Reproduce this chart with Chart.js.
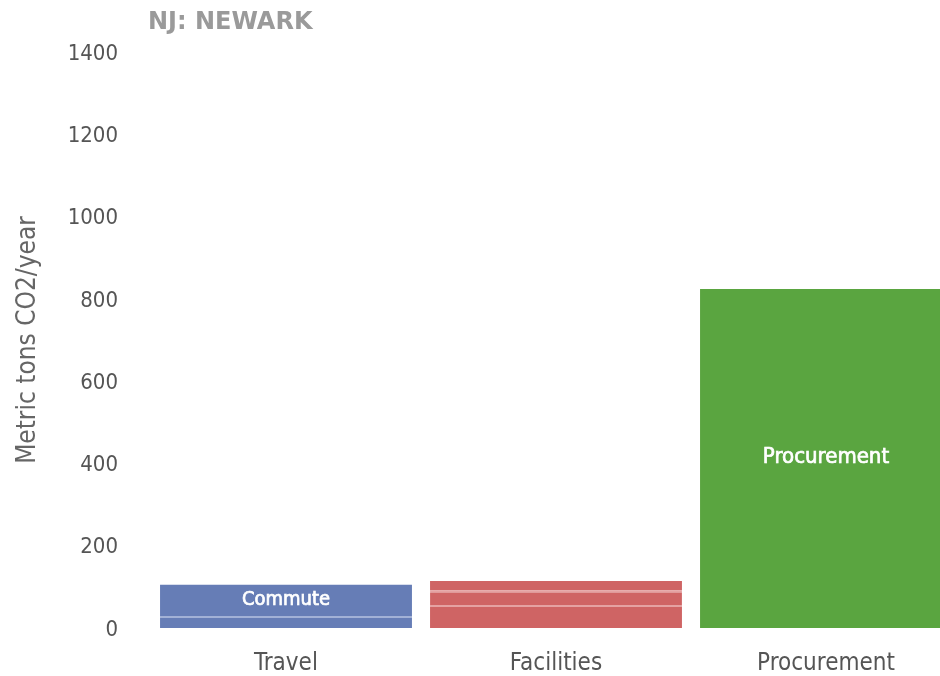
<!DOCTYPE html>
<html>
<head>
<meta charset="utf-8">
<script src="https://cdn.jsdelivr.net/npm/chart.js@4.4.1/dist/chart.umd.min.js"></script>
<style>
  html, body { margin: 0; padding: 0; background: #fff; overflow: hidden; }
</style>
</head>
<body>
<canvas id="chart" width="961" height="676"></canvas>
<script>
const categories = ["Travel", "Facilities", "Procurement"]
const travelOther = [29, null, null]
const commute = [76, null, null]
const facilitiesA = [null, 56, null]
const facilitiesB = [null, 35, null]
const facilitiesC = [null, 23, null]
const procurement = [null, null, 824]
const yTicks = [0, 200, 400, 600, 800, 1000, 1200, 1400]

const FONT = "'DejaVu Sans Condensed', 'DejaVu Sans', sans-serif"
const BLUE = "#667db6"
const BLUE_LINE = "#a2b1d6"
const RED = "#cf6464"
const RED_LINE = "#e5a2a2"
const GREEN = "#5aa540"

// lower segments get a thin light line on top, the top segment none
const seg = (label, data, color, line, labelSize) => ({
    label: label,
    data: data,
    backgroundColor: color,
    borderColor: line || color,
    borderWidth: { top: line ? 2 : 0, left: 0, right: 0, bottom: 0 },
    borderSkipped: false,
    labelSize: labelSize
})

const barLabels = {
    id: "barLabels",
    afterDatasetsDraw(chart) {
        const ctx = chart.ctx
        ctx.save()
        ctx.fillStyle = "#ffffff"
        ctx.strokeStyle = "#ffffff"
        ctx.lineWidth = 0.7
        ctx.textAlign = "center"
        ctx.textBaseline = "middle"
        chart.data.datasets.forEach((ds, i) => {
            if (!ds.labelSize) return
            ctx.font = ds.labelSize + "px " + FONT
            chart.getDatasetMeta(i).data.forEach((bar, j) => {
                if (ds.data[j] == null) return
                const y = (bar.y + bar.base) / 2 - 1
                ctx.fillText(ds.label, bar.x, y)
                ctx.strokeText(ds.label, bar.x, y)
            })
        })
        ctx.fillStyle = "#9a9a9a"
        ctx.font = "bold 24px 'DejaVu Sans', sans-serif"
        ctx.textAlign = "left"
        ctx.fillText("NJ: NEWARK", chart.chartArea.left - 3, 23)
        ctx.restore()
    }
}

const config = {
    type: "bar",
    data: {
        labels: categories,
        datasets: [
            seg("", travelOther, BLUE, BLUE_LINE, 0),
            seg("Commute", commute, BLUE, null, 20),
            seg("", facilitiesA, RED, RED_LINE, 0),
            seg("", facilitiesB, RED, RED_LINE, 0),
            seg("", facilitiesC, RED, null, 0),
            seg("Procurement", procurement, GREEN, null, 22)
        ]
    },
    options: {
        responsive: false,
        animation: false,
        layout: { padding: { top: 52, right: 0, bottom: 0, left: 0 } },
        datasets: { bar: { barPercentage: 0.933, categoryPercentage: 1 } },
        scales: {
            x: {
                stacked: true,
                grid: { display: false, drawTicks: false },
                border: { display: false },
                ticks: { color: "#555", font: { family: FONT, size: 24 }, padding: 21 },
                afterFit: s => { s.height = 48 }
            },
            y: {
                stacked: true,
                min: 0,
                max: 1400,
                afterBuildTicks: s => { s.ticks = yTicks.map(v => ({ value: v })) },
                grid: { display: false, drawTicks: false },
                border: { display: false },
                ticks: {
                    color: "#555",
                    font: { family: FONT, size: 22 },
                    padding: 33,
                    labelOffset: 2,
                    callback: v => String(v)
                },
                title: {
                    display: true,
                    text: "Metric tons CO2/year",
                    color: "#666",
                    font: { family: FONT, size: 26 },
                    padding: { top: 13, bottom: 0 }
                },
                afterFit: s => { s.width = 151 }
            }
        },
        plugins: {
            legend: { display: false },
            title: { display: false },
            tooltip: { enabled: false }
        }
    },
    plugins: [barLabels]
}

new Chart(document.getElementById("chart"), config)
</script>
</body>
</html>
